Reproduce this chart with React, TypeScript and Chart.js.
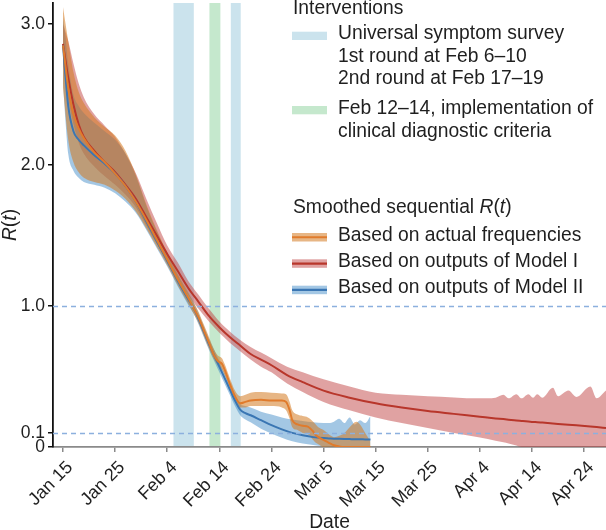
import React, { useEffect, useRef } from "react";
import { Chart, registerables } from "chart.js";

Chart.register(...registerables);

// x values are days since Jan 15 (2020)
const X_TICK_DAYS = [0, 10, 20, 30, 40, 50, 60, 70, 80, 90, 100];
const X_TICK_LABELS = ["Jan 15", "Jan 25", "Feb 4", "Feb 14", "Feb 24", "Mar 5", "Mar 15", "Mar 25", "Apr 4", "Apr 14", "Apr 24"];
const Y_TICKS = [0, 0.1, 1, 2, 3];
const Y_TICK_LABELS = ["0", "0.1", "1.0", "2.0", "3.0"];
const REF_LINES = [1.0, 0.1];

// intervention spans (days since Jan 15, as drawn)
const SURVEY_SPANS = [[21.2, 25.1], [32.2, 34.1]];
const CRITERIA_SPANS = [[28.1, 30.2]];

// Model I (red)
const RED_DAY = [0, 1, 2, 3, 4, 6, 8, 10, 12, 14, 16, 18, 20, 22, 24, 26, 28, 30, 32, 34, 36, 38, 40, 43, 46, 50, 55, 60, 65, 70, 75, 80, 83, 84.5, 85.5, 87, 88, 89.3, 90.2, 91, 92, 94, 95, 97, 98.5, 101.2, 102.4, 104.2];
const RED_MID = [2.86, 2.62, 2.43, 2.29, 2.20, 2.10, 2.02, 1.95, 1.86, 1.76, 1.63, 1.50, 1.37, 1.25, 1.13, 1.03, 0.93, 0.85, 0.78, 0.72, 0.66, 0.62, 0.58, 0.51, 0.46, 0.40, 0.35, 0.31, 0.28, 0.255, 0.235, 0.215, 0.203, 0.198, 0.194, 0.188, 0.185, 0.181, 0.178, 0.176, 0.173, 0.167, 0.164, 0.158, 0.154, 0.146, 0.142, 0.135];
const RED_LO = [2.72, 2.47, 2.29, 2.16, 2.08, 1.99, 1.92, 1.86, 1.79, 1.70, 1.57, 1.44, 1.32, 1.20, 1.08, 0.98, 0.89, 0.81, 0.74, 0.68, 0.62, 0.57, 0.53, 0.45, 0.39, 0.32, 0.26, 0.21, 0.17, 0.135, 0.10, 0.068, 0.045, 0.033, 0.024, 0.01, 0, 0, 0, 0, 0, 0, 0, 0, 0, 0, 0, 0];
const RED_HI = [3.00, 2.88, 2.72, 2.58, 2.48, 2.36, 2.28, 2.20, 2.08, 1.94, 1.76, 1.59, 1.43, 1.31, 1.18, 1.08, 0.98, 0.89, 0.82, 0.76, 0.71, 0.67, 0.63, 0.57, 0.53, 0.48, 0.43, 0.385, 0.37, 0.36, 0.352, 0.345, 0.35, 0.37, 0.345, 0.375, 0.345, 0.375, 0.35, 0.375, 0.35, 0.42, 0.36, 0.40, 0.355, 0.43, 0.345, 0.40];

// Actual frequencies (orange)
const ORA_DAY = [0, 1, 2, 3, 4, 6, 8, 10, 12, 14, 16, 18, 20, 22, 24, 25, 26, 27, 28, 29, 29.7, 30.5, 31, 32, 33, 34, 35, 36, 38, 40, 42, 42.8, 43.5, 44, 45, 46, 47, 48, 48.5, 49, 50, 51, 52, 53, 54, 55, 56.3, 57, 58, 59];
const ORA_MID = [2.85, 2.55, 2.36, 2.26, 2.19, 2.09, 2.02, 1.94, 1.85, 1.74, 1.61, 1.47, 1.33, 1.19, 1.06, 0.99, 0.92, 0.83, 0.74, 0.65, 0.61, 0.59, 0.55, 0.45, 0.36, 0.31, 0.32, 0.33, 0.335, 0.33, 0.33, 0.32, 0.26, 0.19, 0.16, 0.15, 0.145, 0.11, 0.085, 0.07, 0.05, 0.03, 0.012, 0.004, 0, 0, 0, 0, 0, 0];
const ORA_LO = [2.55, 2.18, 2.02, 1.95, 1.91, 1.88, 1.86, 1.82, 1.76, 1.67, 1.55, 1.42, 1.29, 1.15, 1.02, 0.95, 0.88, 0.79, 0.70, 0.62, 0.58, 0.55, 0.51, 0.42, 0.33, 0.28, 0.28, 0.29, 0.29, 0.29, 0.28, 0.26, 0.20, 0.14, 0.12, 0.10, 0.09, 0.05, 0.03, 0.02, 0, 0, 0, 0, 0, 0, 0, 0, 0, 0];
const ORA_HI = [3.12, 2.88, 2.66, 2.52, 2.44, 2.34, 2.27, 2.21, 2.10, 1.93, 1.72, 1.54, 1.38, 1.23, 1.10, 1.03, 0.96, 0.87, 0.78, 0.69, 0.65, 0.63, 0.59, 0.49, 0.40, 0.36, 0.37, 0.385, 0.39, 0.385, 0.38, 0.375, 0.32, 0.26, 0.23, 0.22, 0.21, 0.18, 0.16, 0.14, 0.12, 0.09, 0.07, 0.08, 0.10, 0.14, 0.18, 0.16, 0.10, 0.04];

// Model II (blue)
const BLU_DAY = [0, 0.5, 1, 2, 3, 4, 6, 8, 10, 12, 14, 16, 18, 20, 22, 24, 25, 26, 27, 28, 29, 30, 31, 32, 33, 34, 35, 36, 38, 40, 42, 44, 46, 48, 50, 51, 52, 53, 54, 55, 56, 57, 58, 59];
const BLU_MID = [2.85, 2.62, 2.42, 2.24, 2.18, 2.14, 2.07, 2.01, 1.94, 1.85, 1.74, 1.60, 1.46, 1.32, 1.18, 1.05, 0.99, 0.91, 0.82, 0.73, 0.65, 0.57, 0.49, 0.41, 0.33, 0.265, 0.24, 0.225, 0.19, 0.155, 0.125, 0.10, 0.083, 0.07, 0.063, 0.061, 0.059, 0.058, 0.057, 0.056, 0.055, 0.055, 0.054, 0.054];
const BLU_LO = [2.58, 2.30, 2.08, 1.96, 1.91, 1.88, 1.86, 1.84, 1.80, 1.74, 1.66, 1.54, 1.41, 1.28, 1.14, 1.01, 0.95, 0.87, 0.78, 0.69, 0.61, 0.53, 0.45, 0.37, 0.29, 0.225, 0.195, 0.175, 0.13, 0.095, 0.065, 0.04, 0.025, 0.015, 0.005, 0, 0, 0, 0, 0, 0, 0, 0, 0];
const BLU_HI = [3.05, 2.90, 2.72, 2.50, 2.42, 2.37, 2.30, 2.24, 2.18, 2.08, 1.92, 1.71, 1.53, 1.37, 1.22, 1.09, 1.03, 0.95, 0.86, 0.77, 0.69, 0.61, 0.53, 0.45, 0.37, 0.305, 0.29, 0.28, 0.25, 0.23, 0.21, 0.195, 0.185, 0.175, 0.17, 0.17, 0.18, 0.20, 0.17, 0.21, 0.16, 0.19, 0.17, 0.22];

const FONT_FAMILY = "'Liberation Sans', Arial, Helvetica, sans-serif";
const TEXT_COLOR = "#1f1f1f";

const C_RED = "#b8362b";
const C_ORA = "#e07b2c";
const C_BLU = "#3a76b3";
const F_RED = "rgba(190,60,60,0.48)";
const F_ORA = "rgba(212,122,32,0.55)";
const F_BLU = "rgba(50,130,195,0.45)";
const C_SURVEY = "rgb(203,227,237)";
const C_CRITERIA = "rgb(197,232,205)";
const C_REF = "#8cb0de";

const pts = (xs: number[], ys: number[]) => xs.map((x, i) => ({ x, y: ys[i] }));

type Seg = { t: string; i?: boolean };

function drawSegs(ctx: CanvasRenderingContext2D, segs: Seg[], x: number, y: number, size: number, align: "left" | "center") {
  const fontFor = (s: Seg) => `${s.i ? "italic " : ""}${size}px ${FONT_FAMILY}`;
  let total = 0;
  for (const s of segs) {
    ctx.font = fontFor(s);
    total += ctx.measureText(s.t).width;
  }
  let cx = align === "center" ? x - total / 2 : x;
  ctx.textAlign = "left";
  for (const s of segs) {
    ctx.font = fontFor(s);
    ctx.fillText(s.t, cx, y);
    cx += ctx.measureText(s.t).width;
  }
}

const decorPlugin = {
  id: "decor",
  beforeDraw(chart: any) {
    const { ctx, chartArea, scales } = chart;
    const x = scales.x;
    ctx.save();
    ctx.beginPath();
    ctx.rect(chartArea.left, chartArea.top, chartArea.right - chartArea.left, chartArea.bottom - chartArea.top);
    ctx.clip();
    const span = (s: number[], color: string) => {
      const a = x.getPixelForValue(s[0]);
      const b = x.getPixelForValue(s[1]);
      ctx.fillStyle = color;
      ctx.fillRect(a, chartArea.top, b - a, chartArea.bottom - chartArea.top);
    };
    SURVEY_SPANS.forEach((s) => span(s, C_SURVEY));
    CRITERIA_SPANS.forEach((s) => span(s, C_CRITERIA));
    ctx.restore();
  },
  afterDatasetsDraw(chart: any) {
    const { ctx, chartArea, scales } = chart;
    ctx.save();
    ctx.strokeStyle = C_REF;
    ctx.lineWidth = 1.5;
    ctx.setLineDash([5, 4]);
    for (const v of REF_LINES) {
      const py = Math.round(scales.y.getPixelForValue(v)) + 0.5;
      ctx.beginPath();
      ctx.moveTo(chartArea.left, py);
      ctx.lineTo(chartArea.right, py);
      ctx.stroke();
    }
    ctx.restore();
  },
  afterDraw(chart: any) {
    const { ctx, chartArea } = chart;
    const size = 19.3;
    ctx.save();
    ctx.fillStyle = TEXT_COLOR;
    ctx.textBaseline = "alphabetic";

    // y title
    ctx.save();
    ctx.translate(15.5, (chartArea.top + chartArea.bottom) / 2);
    ctx.rotate(-Math.PI / 2);
    drawSegs(ctx, [{ t: "R", i: true }, { t: "(" }, { t: "t", i: true }, { t: ")" }], 0, 0, size, "center");
    ctx.restore();

    // x title
    drawSegs(ctx, [{ t: "Date" }], (chartArea.left + chartArea.right) / 2, 528, size, "center");

    // legend
    const tx = 293;
    const ex = 338;
    const px = 292;
    const pw = 35;
    drawSegs(ctx, [{ t: "Interventions" }], tx, 13.5, size, "left");
    ctx.fillStyle = C_SURVEY;
    ctx.fillRect(px, 31.7, pw, 8.3);
    ctx.fillStyle = TEXT_COLOR;
    drawSegs(ctx, [{ t: "Universal symptom survey" }], ex, 39, size, "left");
    drawSegs(ctx, [{ t: "1st round at Feb 6–10" }], ex, 61.7, size, "left");
    drawSegs(ctx, [{ t: "2nd round at Feb 17–19" }], ex, 84.2, size, "left");
    ctx.fillStyle = C_CRITERIA;
    ctx.fillRect(px, 106, pw, 8.3);
    ctx.fillStyle = TEXT_COLOR;
    drawSegs(ctx, [{ t: "Feb 12–14, implementation of" }], ex, 113.5, size, "left");
    drawSegs(ctx, [{ t: "clinical diagnostic criteria" }], ex, 136.5, size, "left");

    drawSegs(ctx, [{ t: "Smoothed sequential " }, { t: "R", i: true }, { t: "(" }, { t: "t", i: true }, { t: ")" }], tx, 213.3, size, "left");
    const entries: [string, string, number, number][] = [
      ["Based on actual frequencies", F_ORA, 233, 240.7],
      ["Based on outputs of Model I", F_RED, 259.3, 266.8],
      ["Based on outputs of Model II", F_BLU, 285.7, 293.3],
    ];
    const lineCols = [C_ORA, C_RED, C_BLU];
    entries.forEach(([label, fill, py, by], i) => {
      ctx.fillStyle = fill;
      ctx.fillRect(px, py, pw, 8.5);
      ctx.strokeStyle = lineCols[i];
      ctx.lineWidth = 2.2;
      ctx.beginPath();
      ctx.moveTo(px, py + 4.25);
      ctx.lineTo(px + pw, py + 4.25);
      ctx.stroke();
      ctx.fillStyle = TEXT_COLOR;
      drawSegs(ctx, [{ t: label }], ex, by, size, "left");
    });
    ctx.restore();
  },
};

export default function App() {
  const ref = useRef<HTMLCanvasElement>(null);
  useEffect(() => {
    document.body.style.margin = "0";
    const canvas = ref.current!;
    const lineDs = (label: string, xs: number[], ys: number[], color: string) => ({
      label,
      data: pts(xs, ys),
      borderColor: color,
      backgroundColor: color,
      borderWidth: 2,
      pointRadius: 0,
      fill: false,
      cubicInterpolationMode: "monotone" as const,
    });
    const bandLo = (xs: number[], ys: number[]) => ({
      data: pts(xs, ys),
      borderColor: "rgba(0,0,0,0)",
      borderWidth: 0,
      pointRadius: 0,
      fill: false,
      cubicInterpolationMode: "monotone" as const,
    });
    const bandHi = (xs: number[], ys: number[], color: string) => ({
      data: pts(xs, ys),
      borderColor: "rgba(0,0,0,0)",
      backgroundColor: color,
      borderWidth: 0,
      pointRadius: 0,
      fill: "-1",
      cubicInterpolationMode: "monotone" as const,
    });
    const chart = new Chart(canvas, {
      type: "line",
      data: {
        datasets: [
          lineDs("Based on actual frequencies", ORA_DAY, ORA_MID, C_ORA),
          lineDs("Based on outputs of Model II", BLU_DAY, BLU_MID, C_BLU),
          lineDs("Based on outputs of Model I", RED_DAY, RED_MID, C_RED),
          bandLo(ORA_DAY, ORA_LO),
          bandHi(ORA_DAY, ORA_HI, F_ORA),
          bandLo(BLU_DAY, BLU_LO),
          bandHi(BLU_DAY, BLU_HI, F_BLU),
          bandLo(RED_DAY, RED_LO),
          bandHi(RED_DAY, RED_HI, F_RED),
        ] as any,
      },
      options: {
        responsive: false,
        animation: false,
        devicePixelRatio: 1,
        layout: { padding: { top: 3, right: 0, left: 0, bottom: 0 } },
        plugins: {
          legend: { display: false },
          tooltip: { enabled: false },
          title: { display: false },
        },
        scales: {
          x: {
            type: "linear",
            min: -1.92,
            max: 104.2,
            afterBuildTicks: (s: any) => {
              s.ticks = X_TICK_DAYS.map((v) => ({ value: v }));
            },
            afterFit: (s: any) => {
              s.height = 83;
              s.paddingLeft = 0;
              s.paddingRight = 0;
            },
            ticks: {
              autoSkip: false,
              minRotation: 45,
              maxRotation: 45,
              padding: 5,
              labelOffset: 7,
              color: TEXT_COLOR,
              font: { family: FONT_FAMILY, size: 18 },
              callback: (_v: any, i: number) => X_TICK_LABELS[i],
            },
            grid: { drawOnChartArea: false, drawTicks: true, tickLength: 5, color: "#8a8a8a", lineWidth: 1.5 },
            border: { display: true, color: "#8a8a8a", width: 1.8 },
          },
          y: {
            type: "linear",
            min: 0,
            max: 3.15,
            afterBuildTicks: (s: any) => {
              s.ticks = Y_TICKS.map((v) => ({ value: v }));
            },
            afterFit: (s: any) => {
              s.width = 53;
              s.paddingTop = 0;
              s.paddingBottom = 0;
            },
            ticks: {
              autoSkip: false,
              padding: 3,
              color: TEXT_COLOR,
              font: { family: FONT_FAMILY, size: 17.5 },
              callback: (_v: any, i: number) => Y_TICK_LABELS[i],
            },
            grid: { drawOnChartArea: false, drawTicks: true, tickLength: 5, color: "#111", lineWidth: 1.5 },
            border: { display: true, color: "#111", width: 1.8 },
          },
        },
      },
      plugins: [decorPlugin],
    });
    return () => chart.destroy();
  }, []);
  return (
    <div style={{ width: 606, height: 530 }}>
      <canvas ref={ref} width={606} height={530} style={{ display: "block", width: 606, height: 530 }} />
    </div>
  );
}
